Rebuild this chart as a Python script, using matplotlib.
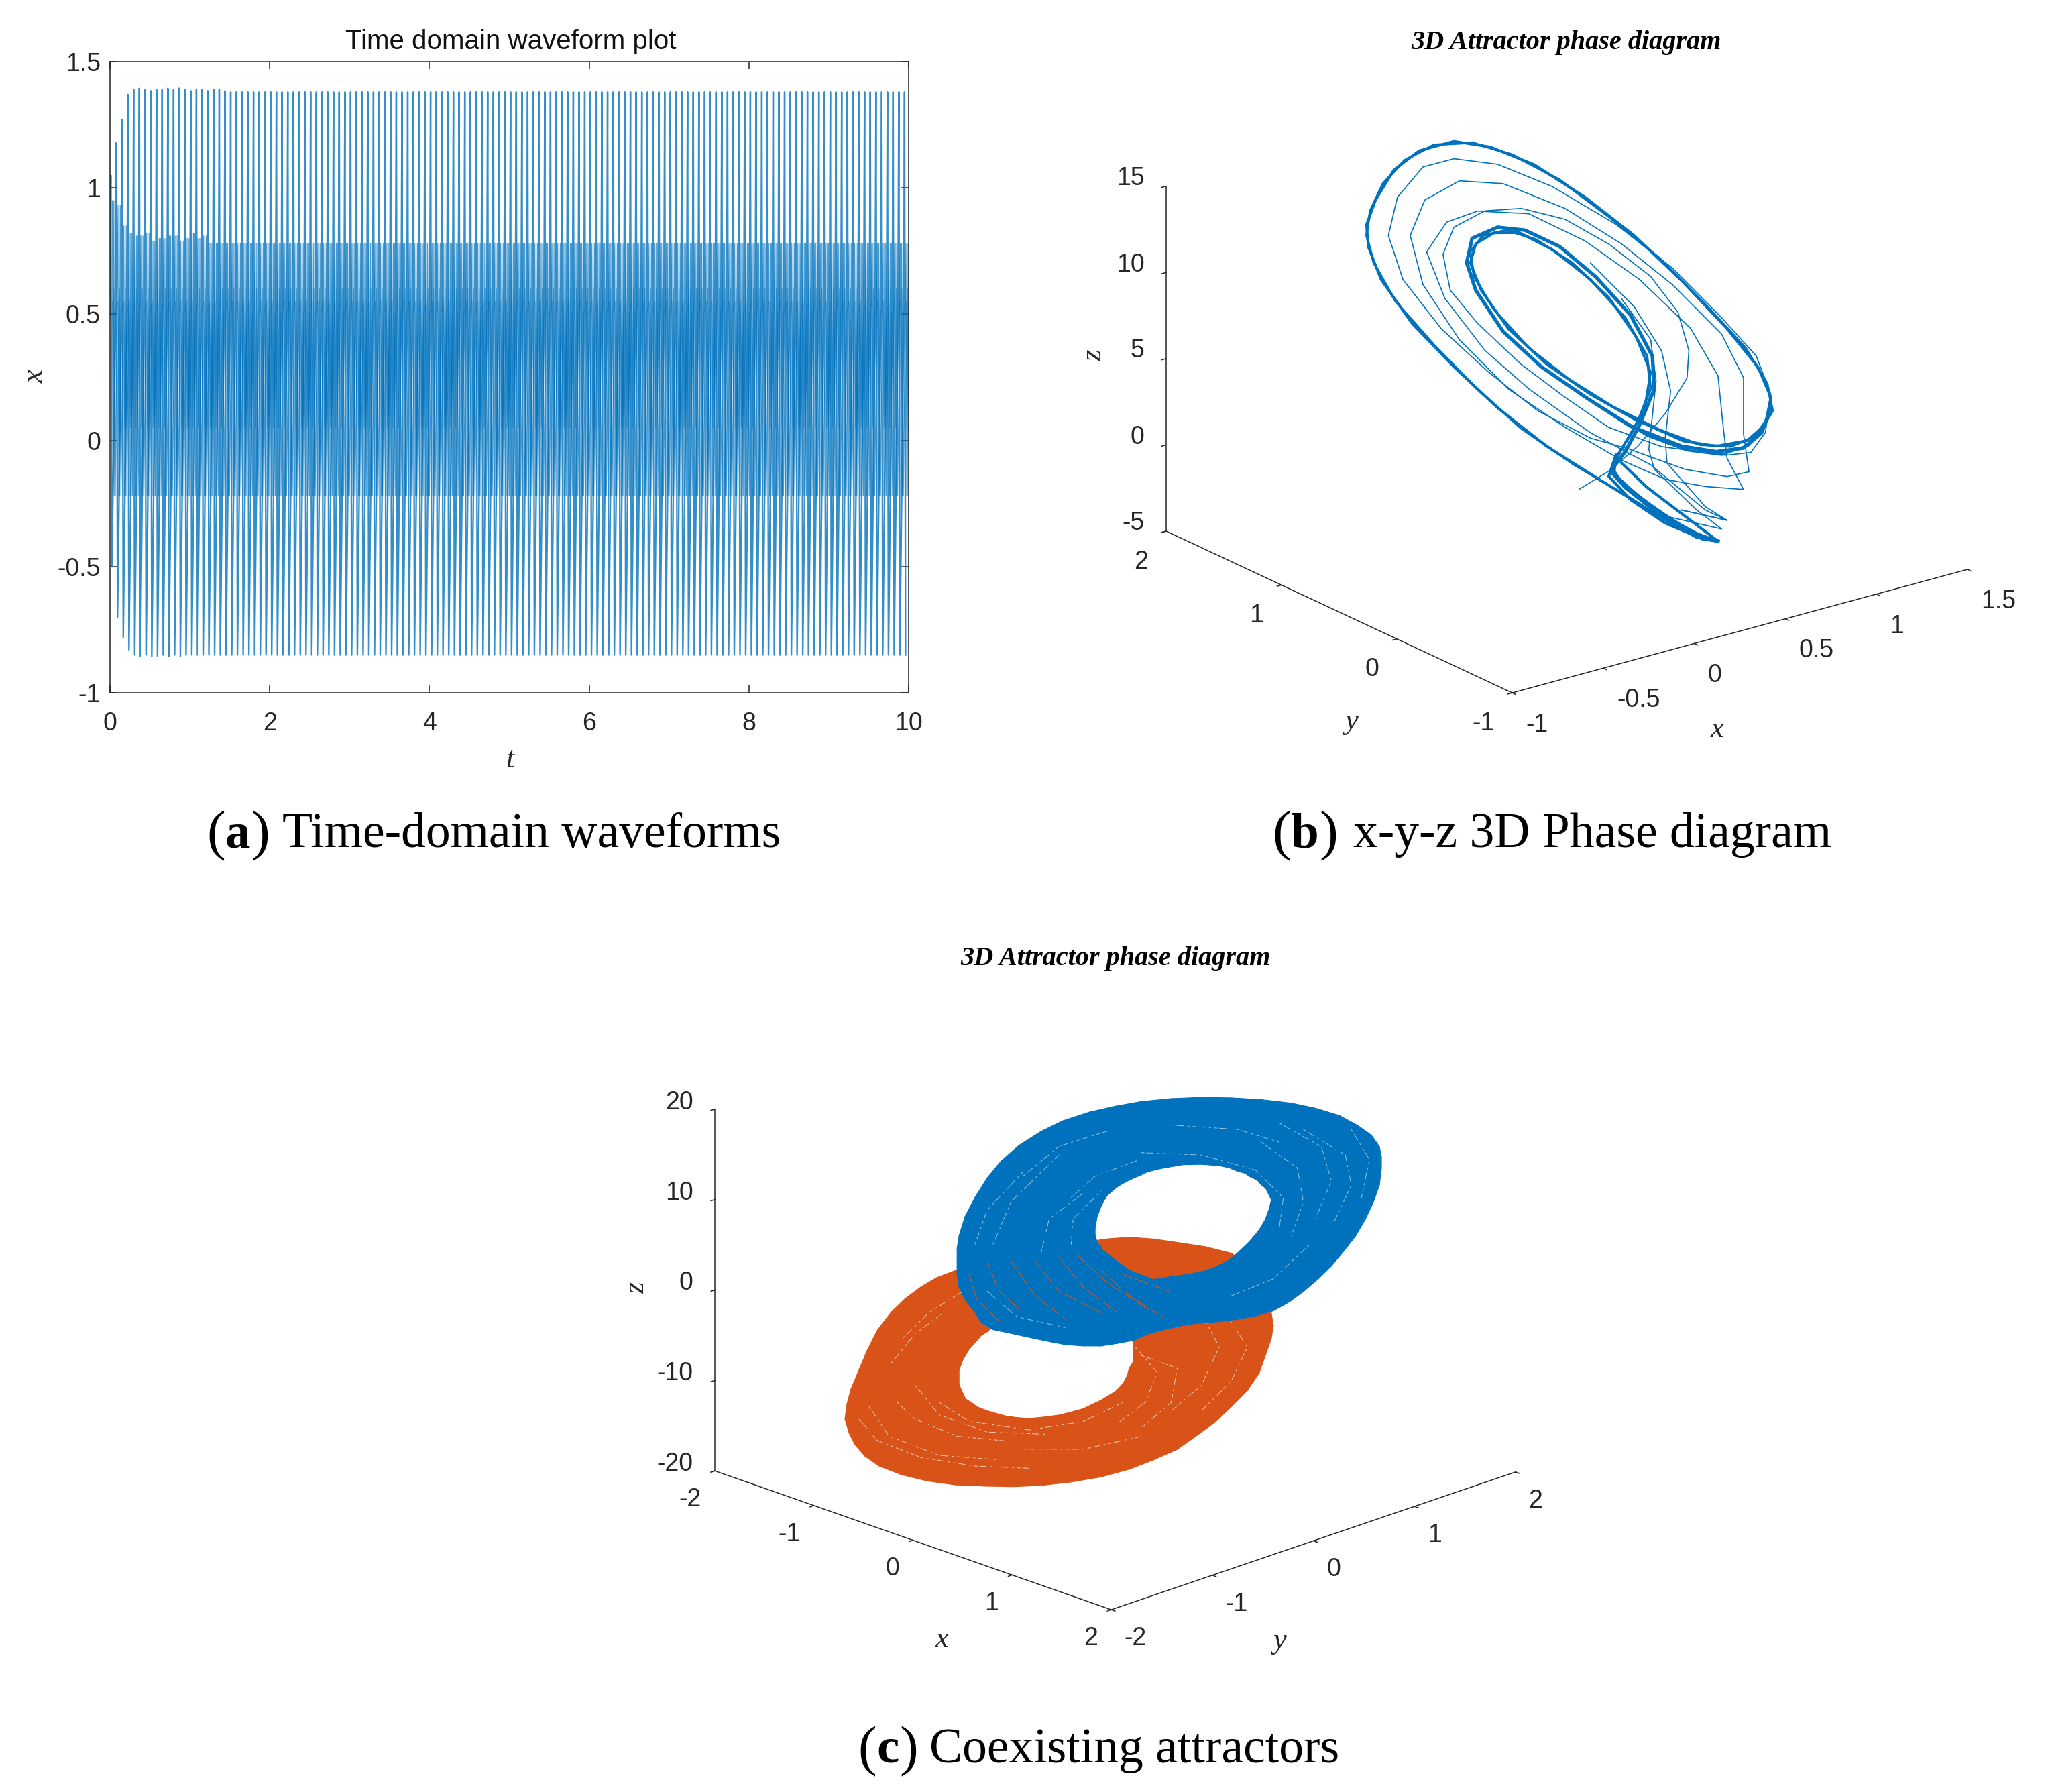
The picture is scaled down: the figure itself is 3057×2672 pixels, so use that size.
import numpy as np
import matplotlib
matplotlib.use('Agg')
import matplotlib.pyplot as plt
from mpl_toolkits.mplot3d import proj3d
from mpl_toolkits.mplot3d.art3d import Poly3DCollection

W, H = 3057, 2672
BLUE = '#0072BD'
ORANGE = '#D95319'
DARK = '#262626'
SANS = 'Liberation Sans'
SERIF = 'Liberation Serif'

# (a) time series, read cycle by cycle
a_period = 0.0715
a_cycles = 140
a_peak_head = [1.05, 1.18, 1.27, 1.37, 1.39, 1.395, 1.39, 1.385, 1.39, 1.39, 1.395, 1.39, 1.395, 1.39, 1.385, 1.39,
               1.39, 1.385, 1.39, 1.39, 1.385]
a_trough_head = [-0.50, -0.70, -0.78, -0.83, -0.85, -0.855, -0.85, -0.855, -0.855, -0.85, -0.855, -0.85, -0.855]
a_band_head = [0.95, 0.93, 0.85, 0.82, 0.81, 0.81, 0.82, 0.79, 0.80, 0.80, 0.81, 0.81, 0.79, 0.80, 0.82, 0.80, 0.81]
a_peak = 1.38
a_trough = -0.85
a_band = 0.78
a_low = -0.22
a_spike_phase = [0.00, 0.14, 0.32]
a_swing_phase = [0.40, 0.51, 0.62, 0.73, 0.84, 0.94]
a_inner_phase = [0.42, 0.55, 0.68, 0.81, 0.94]
a_inner_vals = [0.55, 0.05, 0.60, 0.10, 0.50]
a_xticks = [0, 2, 4, 6, 8, 10]
a_yticks = [-1, -0.5, 0, 0.5, 1, 1.5]
a_ylabels = ['-1', '-0.5', '0', '0.5', '1', '1.5']

# (b) x-y-z trajectory
b_cycle_x = [1.08, .93, .72, .45, .14, -.13, -.37, -.60, -.77, -.84, -.85, -.80, -.70, -.56, -.37, -.17, .07, .35,
             .62, .89, 1.13, 1.30, 1.37, 1.34, 1.24, 1.07, .89, .62, .38, .14, -.07, -.22, -.28, -.25, -.15, -.01,
             .17, .38, .57, .69, .71, .64, .55, .50, .55, .72, .93, 1.08]
b_cycle_z = [-6.85, -6.00, -4.14, -1.61, 1.34, 4.35, 7.41, 10.59, 13.62, 15.72, 17.02, 18.32, 19.77, 20.49, 20.49,
             19.59, 17.88, 15.19, 12.19, 8.70, 5.32, 2.61, .66, -.83, -1.48, -1.31, -.50, 1.55, 3.67, 6.10, 8.75,
             11.42, 13.17, 14.21, 14.55, 14.16, 12.67, 10.33, 7.57, 5.01, 3.05, 1.35, 0.00, -.96, -1.90, -3.82,
             -5.84, -6.85]
b_cycle2_x = [1.00, .83, .59, .29, .00, -.25, -.48, -.69, -.81, -.85, -.83, -.76, -.64, -.48, -.27, -.05, .21, .48,
              .76, 1.01, 1.23, 1.35, 1.38, 1.30, 1.15, .98, .76, .50, .26, .04, -.15, -.26, -.28, -.21, -.08, .08,
              .28, .48, .63, .71, .68, .60, .52, .51, .64, .83, 1.00]
b_cycle2_z = [-6.53, -5.16, -2.89, -.15, 2.78, 5.86, 9.00, 12.12, 14.70, 16.41, 17.77, 19.15, 20.17, 20.60, 20.13,
              18.80, 16.60, 13.69, 10.46, 7.09, 3.94, 1.52, -.15, -1.34, -1.56, -.97, .52, 2.63, 4.90, 7.35, 10.10,
              12.34, 13.83, 14.57, 14.51, 13.51, 11.58, 9.01, 6.29, 4.01, 2.18, .67, -.37, -1.31, -2.94, -4.91, -6.37]
b_strand_x = [1.37, 1.32, 1.22, 1.07, .88, .60, .35, .11, -.10, -.25, -.30, -.27, -.13, .02, .21, .41, .60, .72, .73,
              .65, .57, .49, .57, .76, .96, 1.08]
b_strand_z = [.05, -1.25, -1.85, -1.63, -.77, 1.19, 3.61, 6.04, 8.69, 11.51, 13.25, 14.58, 14.82, 14.22, 12.73, 10.39,
              7.63, 4.91, 2.98, 1.14, -.21, -1.09, -2.27, -4.40, -6.25, -6.85]
b_lower_x = [1.35, 1.25, 1.10, .91, .69, .45]
b_lower_z = [-.53, -1.76, -1.89, -1.09, .40, 2.68]
b_wedge1_x = [.52, .48, .60, .79, 1.00, 1.08]
b_wedge1_z = [-.23, -1.37, -3.07, -4.97, -6.51, -6.85]
b_wedge2_x = [.55, .69, .91, 1.08]
b_wedge2_z = [-.79, -2.61, -5.00, -6.85]
b_thin1_x = [.32, .48, .64, .79, .91, .92, .86, .71, .48, .24, .00, -.20, -.37, -.43, -.39, -.24, .00, .24, .48, .77,
             1.12, 1.26, 1.34, 1.37, 1.29, 1.10, .83, .52, .17, -.13, -.37, -.54, -.68, -.73, -.65, -.44, -.18, .09,
             .38, .59, .90, 1.13, 1.25]
b_thin1_z = [-1.65, -1.07, -.08, 1.38, 3.10, 4.66, 7.06, 9.56, 12.10, 14.22, 15.54, 15.97, 15.51, 14.10, 11.91, 9.56,
             6.49, 3.90, 1.47, -.48, -1.98, -2.22, -1.30, .84, 3.29, 6.05, 9.70, 13.12, 16.32, 18.47, 19.48, 19.49,
             18.14, 16.06, 13.28, 9.83, 6.56, 3.55, 1.13, -.10, -2.17, -3.25, -3.31]
b_thin2_x = [1.25, 1.22, 1.22, 1.10, .83, .55, .24, -.10, -.34, -.53, -.61, -.54, -.34, -.07, .24, .55, .79, 1.01,
             1.22, 1.13, 1.11, 1.08, .93, .65, .35, .04, -.24, -.41, -.52, -.42, -.20, .04, .38, .71, 1.01, 1.13, .88]
b_thin2_z = [-3.31, -1.03, 2.23, 5.10, 8.74, 11.91, 14.85, 17.26, 18.11, 17.54, 15.72, 12.67, 8.90, 5.26, 2.16, -.63,
             -2.43, -3.48, -4.25, -2.19, -.46, 2.74, 5.91, 9.55, 12.65, 15.12, 16.07, 15.92, 14.50, 11.53, 7.88, 4.97,
             1.44, -1.36, -4.84, -5.78, -4.47]
b_thin3_x = [.88, 1.13, 1.01, .80, .79, .82, .77, .62, .38]
b_thin3_z = [-4.47, -5.78, -4.65, -1.52, -.05, 2.60, 5.08, 8.06, 11.29]
b_thin4_x = [.76, 1.10, .96, .73, .70, .74, .71, .55]
b_thin4_z = [-4.40, -6.20, -4.67, -1.68, -.44, 3.42, 5.91, 8.73]
b_y = 0.5
b_xticks = [-1, -0.5, 0, 0.5, 1, 1.5]
b_xlabels = ['-1', '-0.5', '0', '0.5', '1', '1.5']
b_yticks = [-1, 0, 1, 2]
b_zticks = [-5, 0, 5, 10, 15]

# (c) coexisting attractors, outer and inner rim of each band
blue_outer_x = [-.79, -.79, -.78, -.75, -.70, -.64, -.57, -.48, -.37, -.26, -.13, .00, .13, .28, .43, .58, .73, .88,
                1.00, 1.12, 1.21, 1.28, 1.32, 1.33, 1.33, 1.32, 1.29, 1.25, 1.20, 1.14, 1.08, 1.01, .94, .87, .79, .71,
                .61, .51, .40, .32, .24, .16, .09, .01, -.07, -.16, -.25, -.34, -.43, -.52, -.61, -.67, -.70, -.75,
                -.78, -.79]
blue_outer_z = [3.21, 4.62, 6.04, 8.16, 10.28, 12.41, 14.29, 16.04, 17.59, 18.77, 19.72, 20.38, 20.90, 21.23, 21.37,
                21.32, 21.13, 20.75, 20.19, 19.39, 18.30, 17.22, 15.94, 14.76, 13.58, 11.70, 9.81, 7.92, 6.04, 4.34,
                2.74, 1.23, -.09, -1.23, -2.22, -2.74, -3.16, -3.44, -3.63, -3.92, -4.34, -4.81, -5.52, -5.85, -6.13,
                -6.13, -5.99, -5.61, -5.19, -4.76, -4.34, -3.54, -2.45, -1.04, .38, 1.79]
blue_inner_x = [-.09, -.10, -.10, -.09, -.07, -.04, .01, .05, .09, .13, .16, .21, .25, .30, .34, .43, .52, .57, .61,
                .65, .67, .71, .73, .75, .76, .78, .77, .75, .72, .67, .61, .56, .49, .43, .36, .32, .28, .24, .19,
                .17, .15, .11, .07, .04, .01, -.01, -.03, -.04, -.06, -.07, -.07, -.08, -.08, -.09, -.09, -.09]
blue_inner_z = [5.33, 6.13, 6.98, 8.16, 9.34, 10.52, 11.46, 11.98, 12.41, 12.78, 13.11, 13.40, 13.58, 13.77, 13.92,
                13.96, 13.82, 13.58, 13.21, 12.97, 12.64, 12.22, 11.70, 11.37, 10.99, 10.05, 9.10, 7.88, 6.75, 5.42,
                4.15, 3.25, 2.50, 2.08, 1.79, 1.65, 1.56, 1.37, 1.23, 1.37, 1.56, 1.89, 2.26, 2.74, 3.21, 3.58, 3.92,
                4.15, 4.39, 4.62, 4.86, 5.00, 5.09, 5.14, 5.19, 5.28]
orange_outer_x = [-1.35, -1.34, -1.32, -1.28, -1.24, -1.19, -1.12, -1.05, -.97, -.89, -.79, -.64, -.46, -.31, -.16,
                  -.04, .07, .19, .31, .45, .58, .66, .70, .75, .78, .79, .78, .75, .72, .66, .58, .50, .40, .31, .19,
                  .07, -.07, -.22, -.37, -.51, -.64, -.80, -.94, -1.07, -1.18, -1.25, -1.30, -1.33]
orange_outer_z = [-14.25, -12.59, -10.94, -8.82, -6.70, -4.48, -2.45, -.94, .38, 1.42, 2.26, 3.30, 4.15, 4.81, 5.33,
                  5.71, 5.90, 5.71, 5.33, 4.86, 4.15, 2.88, 1.32, -.57, -2.45, -3.87, -5.28, -7.17, -9.06, -11.04,
                  -12.83, -14.53, -16.13, -17.55, -18.73, -19.76, -20.61, -21.18, -21.56, -21.70, -21.65, -21.51,
                  -21.08, -20.38, -19.43, -18.35, -17.08, -15.75]
orange_inner_x = [-.78, -.78, -.78, -.77, -.76, -.73, -.69, -.67, -.64, -.62, -.58, -.50, -.40, -.28, -.16, -.07, .01,
                  .04, .06, .08, .09, .09, .09, .09, .07, .06, .04, .02, .00, -.04, -.07, -.12, -.16, -.22, -.28, -.36,
                  -.43, -.49, -.54, -.59, -.64, -.69, -.72, -.74, -.75, -.76, -.77, -.78]
orange_inner_z = [-9.76, -9.29, -8.82, -8.21, -7.64, -6.51, -5.52, -5.00, -4.58, -4.20, -3.87, -3.30, -2.92, -2.55,
                  -2.45, -2.83, -3.40, -3.96, -4.58, -5.19, -5.75, -6.46, -7.17, -7.88, -8.58, -9.43, -10.24, -10.75,
                  -11.18, -11.70, -12.12, -12.64, -13.07, -13.44, -13.77, -14.01, -14.15, -14.06, -13.92, -13.63,
                  -13.30, -12.88, -12.36, -12.12, -11.89, -11.42, -10.94, -10.38]
orange_gaps = [
    ([-1.28, -1.19, -.97, -.70, -.43], [-14.25, -16.60, -18.49, -19.43, -19.67]),
    ([-1.09, -1.00, -.79, -.52], [-12.36, -14.25, -16.13, -16.70]),
    ([-.88, -.73, -.43, -.16, .04], [-12.36, -14.49, -15.43, -14.49, -12.36]),
    ([.10, .21, .15, .01], [-6.23, -9.06, -12.36, -14.72]),
    ([.43, .52, .43, .28], [-2.45, -6.23, -10.47, -13.30]),
    ([-1.12, -1.00, -.87], [-8.11, -4.81, -2.69]),
    ([-1.23, -1.13, -.88, -.58], [-12.83, -16.13, -18.25, -18.73]),
    ([-1.00, -.88, -.64, -.34], [-10.47, -13.77, -15.66, -15.90]),
    ([.13, .31, .28, .13], [-7.17, -8.58, -12.36, -15.19]),
    ([.55, .66, .58, .43], [-2.45, -6.23, -10.00, -13.30]),
    ([-1.06, -.93, -.76], [-5.28, -2.45, -.09]),
    ([-.46, -.16, .13], [-17.55, -17.55, -16.13]),
]
blue_gaps = [
    ([1.18, 1.27, 1.23], [17.83, 14.53, 10.28]),
    ([.82, 1.03, 1.08, 1.00], [18.54, 15.94, 12.17, 7.92]),
    ([.13, .43, .70, .84, .82], [15.24, 15.00, 13.35, 10.28, 6.98]),
    ([-.22, -.10, .13], [10.28, 12.64, 14.53]),
    ([-.61, -.52, -.28], [5.09, 9.81, 15.00]),
    ([-.37, -.33, -.16], [4.15, 7.92, 10.75]),
    ([-.64, -.49, -.25], [-.09, -2.92, -4.10]),
    ([.94, 1.15, 1.18, 1.09], [17.83, 15.00, 11.70, 7.45]),
    ([.73, .91, .94, .88], [16.42, 13.58, 9.81, 6.04]),
    ([.28, .61, .82], [18.30, 17.83, 16.42]),
    ([-.46, -.28, -.01], [12.64, 15.94, 17.83]),
    ([-.70, -.64, -.46], [5.09, 8.87, 13.11]),
    ([-.22, -.21, -.07], [5.09, 7.92, 11.00]),
    ([.97, .79, .58], [5.09, 1.32, -.57]),
]
orange_through = [
    ([-.64, -.58, -.46], [3.21, -.09, -2.45]),
    ([-.40, -.28, -.07], [3.21, -.09, -2.45]),
    ([-.19, -.04, .19], [3.92, .85, -2.45]),
    ([.04, .27], [1.79, -.09]),
    ([-.73, -.69, -.58], [1.79, -1.04, -3.40]),
    ([-.52, -.40, -.25], [3.21, -.57, -3.16]),
    ([-.28, -.16, .01], [3.68, .38, -2.45]),
    ([-.07, .07, .24], [2.26, -.57, -2.92]),
]
c_xticks = [-2, -1, 0, 1, 2]
c_zticks = [-20, -10, 0, 10, 20]


def px_text(x, y, s, **kw):
    return fig.text(x / W, 1 - y / H, s, **kw)


def caption(x_par, x_txt, base, letter, s):
    px_text(x_par, base + 3, '(', family=SERIF, fontsize=60, va='baseline')
    mid = px_text(x_par + 28, base, letter, family=SERIF, weight='bold', fontsize=54, va='baseline')
    fig.canvas.draw()
    end = mid.get_window_extent().x1
    px_text(end + 1, base + 3, ')', family=SERIF, fontsize=60, va='baseline')
    px_text(x_txt, base, s, family=SERIF, fontsize=53, va='baseline')


def fit_box(ax, p0, p1, t0, t1):
    # scale and move the square 3D axes so two box corners land on the wanted pixels
    t0 = np.array([t0[0], H - t0[1]], float)
    t1 = np.array([t1[0], H - t1[1]], float)
    for _ in range(3):
        fig.canvas.draw()
        m = ax.get_proj()
        q = []
        for p in (p0, p1):
            a, b, _z = proj3d.proj_transform(p[0], p[1], p[2], m)
            q.append(ax.transData.transform((a, b)))
        r = np.linalg.norm(t1 - t0) / np.linalg.norm(q[1] - q[0])
        box = ax.get_position()
        w = box.width * W
        h = box.height * H
        cen = np.array([box.x0 * W + w / 2, box.y0 * H + h / 2])
        new_cen = (t0 + t1) / 2 - r * ((q[0] + q[1]) / 2 - cen)
        ax.set_position([(new_cen[0] - r * w / 2) / W, (new_cen[1] - r * h / 2) / H, r * w / W, r * h / H])


def style_3d(ax, pad_xy, pad_z, ha_x, ha_y):
    for axis in (ax.xaxis, ax.yaxis, ax.zaxis):
        axis.set_pane_color((1, 1, 1, 0))
        axis.pane.set_edgecolor((1, 1, 1, 0))
        axis.line.set_color(DARK)
        axis.line.set_linewidth(1.1)
        axis._axinfo['tick']['inward_factor'] = 0.12
        axis._axinfo['tick']['outward_factor'] = 0.0
        axis._axinfo['tick']['linewidth'] = {True: 1.1, False: 0.5}
        axis._axinfo['tick']['color'] = DARK
    ax.grid(False)
    ax.tick_params(labelsize=27, colors=DARK)
    ax.tick_params(axis='x', pad=pad_xy)
    ax.tick_params(axis='y', pad=pad_xy)
    ax.tick_params(axis='z', pad=pad_z)
    for lab in ax.get_xticklabels() + ax.get_yticklabels() + ax.get_zticklabels():
        lab.set_family(SANS)
    for lab in ax.get_xticklabels():
        lab.set_ha(ha_x)
    for lab in ax.get_yticklabels():
        lab.set_ha(ha_y)
    for lab in ax.get_zticklabels():
        lab.set_ha('right')
        lab.set_va('baseline')


fig = plt.figure(figsize=(W / 100, H / 100), dpi=100, facecolor='white')

# panel a
ax = fig.add_axes([164 / W, 1 - 1033 / H, (1355 - 164) / W, (1033 - 92) / H])
t_s, x_s, t_w, x_w, t_i, x_i = [], [], [], [], [], []
for k in range(a_cycles):
    pk = a_peak_head[k] if k < len(a_peak_head) else a_peak
    tr = a_trough_head[k] if k < len(a_trough_head) else a_trough
    bd = a_band_head[k] if k < len(a_band_head) else a_band
    t_s += [(k + f) * a_period for f in a_spike_phase]
    x_s += [0.5, pk, tr]
    t_w += [(k + f) * a_period for f in a_swing_phase]
    x_w += [bd, a_low, bd, a_low, bd, a_low]
    t_i += [(k + f) * a_period for f in a_inner_phase]
    x_i += a_inner_vals
ax.plot(t_s, x_s, color=BLUE, lw=1.7, alpha=0.8)
ax.plot(t_w, x_w, color=BLUE, lw=0.8, alpha=0.72)
ax.plot(t_i, x_i, color=BLUE, lw=0.8, alpha=0.55)
ax.set_xlim(0, 10)
ax.set_ylim(-1, 1.5)
ax.set_xticks(a_xticks)
ax.set_xticklabels([str(v) for v in a_xticks], family=SANS)
ax.set_yticks(a_yticks)
ax.set_yticklabels(a_ylabels, family=SANS)
ax.tick_params(direction='in', length=8, width=1.1, top=True, right=True, colors=DARK, labelsize=27, pad=10)
ax.tick_params(axis='x', pad=20)
for sp in ax.spines.values():
    sp.set_color(DARK)
    sp.set_linewidth(1.1)
px_text(762, 62, 'Time domain waveform plot', family=SANS, fontsize=29, ha='center', va='center', color='#111111')
px_text(760, 1133, 't', family=SERIF, style='italic', fontsize=32, ha='center', va='center', color=DARK)
px_text(53, 561, 'x', family=SERIF, style='italic', fontsize=32, ha='center', va='center', rotation=90, color=DARK)
caption(308, 421, 1263, 'a', 'Time-domain waveforms')

# panel b
ax = fig.add_axes([0.5, 0.5, 0.4, 0.4], projection='3d', proj_type='ortho', computed_zorder=False)
ax.view_init(elev=20.85, azim=-127.3)
ax.set_box_aspect((853, 851, 550))
for xs, zs, lw in [(b_cycle_x, b_cycle_z, 2.8), (b_cycle2_x, b_cycle2_z, 2.6), (b_strand_x, b_strand_z, 3.8),
                   (b_lower_x, b_lower_z, 2.6), (b_wedge1_x, b_wedge1_z, 3.0), (b_wedge2_x, b_wedge2_z, 3.0),
                   (b_thin1_x, b_thin1_z, 1.2), (b_thin2_x, b_thin2_z, 1.2), (b_thin3_x, b_thin3_z, 1.2),
                   (b_thin4_x, b_thin4_z, 1.2)]:
    ax.plot(xs, [b_y] * len(xs), zs, color=BLUE, lw=lw, solid_joinstyle='round')
ax.set_xlim(-1, 1.5)
ax.set_ylim(-1, 2)
ax.set_zlim(-5, 15)
ax.set_xticks(b_xticks)
ax.set_xticklabels(b_xlabels)
ax.set_yticks(b_yticks)
ax.set_yticklabels([str(v) for v in b_yticks])
ax.set_zticks(b_zticks)
ax.set_zticklabels([str(v) for v in b_zticks])
style_3d(ax, 11, 5, 'left', 'right')
fit_box(ax, (-1, 2, -5), (1.5, -1, -5), (1739, 792), (2934, 849))
px_text(2336, 64, '3D Attractor phase diagram', family=SERIF, weight='bold', style='italic', fontsize=29,
        ha='center', va='center')
px_text(2560, 1088, 'x', family=SERIF, style='italic', fontsize=32, ha='center', va='center', color=DARK)
px_text(2016, 1076, 'y', family=SERIF, style='italic', fontsize=32, ha='center', va='center', color=DARK)
px_text(1632, 530, 'z', family=SERIF, style='italic', fontsize=32, ha='center', va='center', rotation=90, color=DARK)
caption(1897, 2018, 1263, 'b', 'x-y-z 3D Phase diagram')

# panel c
ax = fig.add_axes([0.3, 0.05, 0.4, 0.4], projection='3d', proj_type='ortho', computed_zorder=False)
ax.view_init(elev=20.2, azim=-44.6)
ax.set_box_aspect((842, 847, 575))


def ring(ax, ox, oz, ix, iz, col, order):
    n = len(ox)
    quads = []
    for i in range(n):
        j = (i + 1) % n
        quads.append([(ox[i], ox[i], oz[i]), (ox[j], ox[j], oz[j]), (ix[j], ix[j], iz[j]), (ix[i], ix[i], iz[i])])
    ax.add_collection3d(Poly3DCollection(quads, facecolor=col, edgecolor=col, linewidth=0.8, zorder=order),
                        autolim=False)


ring(ax, orange_outer_x, orange_outer_z, orange_inner_x, orange_inner_z, ORANGE, 2)
for xs, zs in orange_gaps:
    ax.plot(xs, xs, zs, color='white', lw=0.7, alpha=0.7, ls=(0, (5, 3, 11, 6, 3, 5)), zorder=3)
ring(ax, blue_outer_x, blue_outer_z, blue_inner_x, blue_inner_z, BLUE, 4)
for xs, zs in blue_gaps:
    ax.plot(xs, xs, zs, color='white', lw=0.7, alpha=0.6, ls=(0, (5, 3, 11, 6, 3, 5)), zorder=5)
for xs, zs in orange_through:
    ax.plot(xs, xs, zs, color=ORANGE, lw=1.0, alpha=0.85, ls=(0, (10, 3, 16, 5)), zorder=5)
ax.set_xlim(-2, 2)
ax.set_ylim(-2, 2)
ax.set_zlim(-20, 20)
ax.set_xticks(c_xticks)
ax.set_xticklabels([str(v) for v in c_xticks])
ax.set_yticks(c_xticks)
ax.set_yticklabels([str(v) for v in c_xticks])
ax.set_zticks(c_zticks)
ax.set_zticklabels([str(v) for v in c_zticks])
ax.zaxis.set_ticks_position('lower')
style_3d(ax, 8, 5, 'right', 'left')
fit_box(ax, (-2, -2, -20), (2, 2, -20), (1066, 2193), (2260, 2195))
px_text(1663, 1429, '3D Attractor phase diagram', family=SERIF, weight='bold', style='italic', fontsize=29,
        ha='center', va='center')
px_text(1404, 2445, 'x', family=SERIF, style='italic', fontsize=32, ha='center', va='center', color=DARK)
px_text(1909, 2447, 'y', family=SERIF, style='italic', fontsize=32, ha='center', va='center', color=DARK)
px_text(949, 1920, 'z', family=SERIF, style='italic', fontsize=32, ha='center', va='center', rotation=90, color=DARK)
caption(1279, 1386, 2628, 'c', 'Coexisting attractors')

fig.savefig('out.png', dpi=100, facecolor='white')
